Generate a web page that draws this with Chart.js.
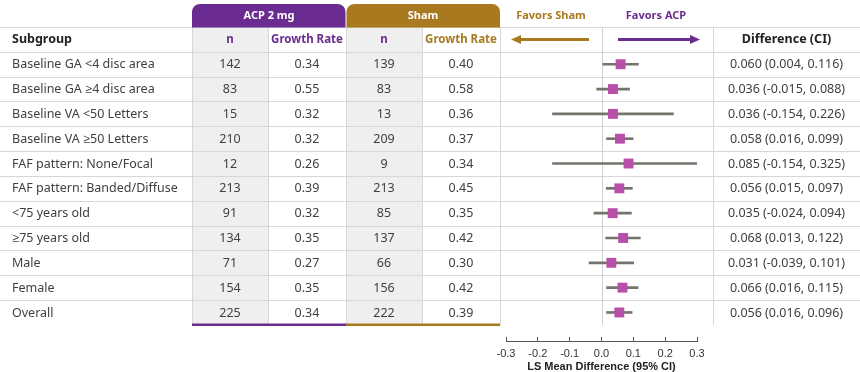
<!DOCTYPE html>
<html>
<head>
<meta charset="utf-8">
<script src="https://cdn.jsdelivr.net/npm/chart.js@4/dist/chart.umd.min.js"></script>
<style>
  html, body { margin: 0; padding: 0; background: #fff; }
  canvas { display: block; }
</style>
</head>
<body>
<canvas id="forest" width="860" height="372"></canvas>
<script>
// Subgroup rows
const subgroups = [
  'Baseline GA <4 disc area',
  'Baseline GA \u22654 disc area',
  'Baseline VA <50 Letters',
  'Baseline VA \u226550 Letters',
  'FAF pattern: None/Focal',
  'FAF pattern: Banded/Diffuse',
  '<75 years old',
  '\u226575 years old',
  'Male',
  'Female',
  'Overall'
];
const acpN     = [142, 83, 15, 210, 12, 213, 91, 134, 71, 154, 225];
const acpRate  = ['0.34', '0.55', '0.32', '0.32', '0.26', '0.39', '0.32', '0.35', '0.27', '0.35', '0.34'];
const shamN    = [139, 83, 13, 209, 9, 213, 85, 137, 66, 156, 222];
const shamRate = ['0.40', '0.58', '0.36', '0.37', '0.34', '0.45', '0.35', '0.42', '0.30', '0.42', '0.39'];
// LS mean difference with 95% CI
const diffEst  = [0.060, 0.036, 0.036, 0.058, 0.085, 0.056, 0.035, 0.068, 0.031, 0.066, 0.056];
const ciLow    = [0.004, -0.015, -0.154, 0.016, -0.154, 0.015, -0.024, 0.013, -0.039, 0.016, 0.016];
const ciHigh   = [0.116, 0.088, 0.226, 0.099, 0.325, 0.097, 0.094, 0.122, 0.101, 0.115, 0.096];
const xTicks   = [-0.3, -0.2, -0.1, 0.0, 0.1, 0.2, 0.3];

const PURPLE = '#6b2c91';
const GOLD = '#a8791f';
const MARKER = '#b84fa8';
const CI_GREY = '#74746c';
const GRID = '#d7d7d7';
const SHADE = '#efefef';
const TEXT = '#404040';
const TFONT = '"Noto Sans", "Open Sans", sans-serif';

// column edges of the table
const COL = {
  label: [0, 192], acpN: [192, 268], acpRate: [268, 346],
  shamN: [346, 422], shamRate: [422, 500], forest: [500, 713], diff: [713, 860]
};
const mid = c => (c[0] + c[1]) / 2;

function roundedTab(ctx, x0, x1, y0, y1, r, color) {
  ctx.beginPath();
  ctx.moveTo(x0, y1);
  ctx.lineTo(x0, y0 + r);
  ctx.arcTo(x0, y0, x0 + r, y0, r);
  ctx.lineTo(x1 - r, y0);
  ctx.arcTo(x1, y0, x1, y0 + r, r);
  ctx.lineTo(x1, y1);
  ctx.closePath();
  ctx.fillStyle = color;
  ctx.fill();
}

function arrow(ctx, xTail, xTip, y, color) {
  const dir = Math.sign(xTip - xTail);
  const head = 10;
  ctx.strokeStyle = color;
  ctx.fillStyle = color;
  ctx.lineWidth = 3;
  ctx.beginPath();
  ctx.moveTo(xTail, y);
  ctx.lineTo(xTip - dir * head, y);
  ctx.stroke();
  ctx.beginPath();
  ctx.moveTo(xTip, y);
  ctx.lineTo(xTip - dir * head, y - 4.5);
  ctx.lineTo(xTip - dir * head, y + 4.5);
  ctx.closePath();
  ctx.fill();
}

const tablePlugin = {
  id: 'forestTable',
  beforeDatasetsDraw(chart) {
    const { ctx, scales: { x, y } } = chart;
    const rowY = k => y.getPixelForValue(k);
    const top = rowY(-0.5);
    const bottom = rowY(subgroups.length + 0.5);
    const W = chart.width;

    ctx.save();
    // shaded n columns
    ctx.fillStyle = SHADE;
    [COL.acpN, COL.shamN].forEach(c => ctx.fillRect(c[0], top, c[1] - c[0], bottom - top));

    // row rules
    ctx.strokeStyle = GRID;
    ctx.lineWidth = 1;
    for (let k = 0; k < subgroups.length + 1; k++) {
      const yy = Math.round(rowY(k - 0.5)) + 0.5;
      ctx.beginPath();
      ctx.moveTo(0, yy);
      ctx.lineTo(W, yy);
      ctx.stroke();
    }
    // column rules
    [COL.acpN[0], COL.acpRate[0], COL.shamN[0], COL.shamRate[0], COL.forest[0], COL.diff[0]].forEach(xx => {
      ctx.beginPath();
      ctx.moveTo(xx + 0.5, top);
      ctx.lineTo(xx + 0.5, bottom);
      ctx.stroke();
    });
    // zero reference line
    const x0 = Math.round(x.getPixelForValue(0)) + 0.5;
    ctx.strokeStyle = '#cfcfcf';
    ctx.beginPath();
    ctx.moveTo(x0, top);
    ctx.lineTo(x0, bottom);
    ctx.stroke();

    // arm tabs
    const tabTop = top - 23;
    roundedTab(ctx, COL.acpN[0], COL.acpRate[1] - 0.5, tabTop, top + 0.5, 8, PURPLE);
    roundedTab(ctx, COL.shamN[0] + 0.5, COL.shamRate[1], tabTop, top + 0.5, 8, GOLD);
    ctx.textAlign = 'center';
    ctx.textBaseline = 'middle';
    ctx.fillStyle = '#ffffff';
    ctx.font = 'bold 11px ' + TFONT;
    ctx.fillText('ACP 2 mg', (COL.acpN[0] + COL.acpRate[1]) / 2, (tabTop + top) / 2 + 0.5);
    ctx.fillText('Sham', (COL.shamN[0] + COL.shamRate[1]) / 2, (tabTop + top) / 2 + 0.5);

    // favours labels and arrows
    ctx.font = 'bold 11px ' + TFONT;
    ctx.fillStyle = GOLD;
    ctx.fillText('Favors Sham', 551, (tabTop + top) / 2 + 0.5);
    ctx.fillStyle = PURPLE;
    ctx.fillText('Favors ACP', 656, (tabTop + top) / 2 + 0.5);
    const hy = rowY(0);
    arrow(ctx, 589, 511, hy, GOLD);
    arrow(ctx, 618, 700, hy, PURPLE);

    // header row
    ctx.font = 'bold 12.5px ' + TFONT;
    ctx.fillStyle = '#222';
    ctx.textAlign = 'left';
    ctx.fillText('Subgroup', 12, hy);
    ctx.textAlign = 'center';
    ctx.fillText('Difference (CI)', mid(COL.diff), hy);
    ctx.font = 'bold 11.5px ' + TFONT;
    ctx.fillStyle = PURPLE;
    ctx.fillText('n', mid(COL.acpN), hy);
    ctx.fillText('Growth Rate', mid(COL.acpRate), hy);
    ctx.fillText('n', mid(COL.shamN), hy);
    ctx.fillStyle = GOLD;
    ctx.fillText('Growth Rate', mid(COL.shamRate), hy);

    // body rows
    ctx.font = '12.5px ' + TFONT;
    ctx.fillStyle = TEXT;
    subgroups.forEach((name, i) => {
      const yy = rowY(i + 1) + 0.5;
      ctx.textAlign = 'left';
      ctx.fillText(name, 12, yy);
      ctx.textAlign = 'center';
      ctx.fillText(String(acpN[i]), mid(COL.acpN), yy);
      ctx.fillText(acpRate[i], mid(COL.acpRate), yy);
      ctx.fillText(String(shamN[i]), mid(COL.shamN), yy);
      ctx.fillText(shamRate[i], mid(COL.shamRate), yy);
      const txt = diffEst[i].toFixed(3) + ' (' + ciLow[i].toFixed(3) + ', ' + ciHigh[i].toFixed(3) + ')';
      ctx.fillText(txt, mid(COL.diff), yy);
    });

    // arm underlines
    ctx.lineWidth = 2.5;
    ctx.strokeStyle = PURPLE;
    ctx.beginPath();
    ctx.moveTo(COL.acpN[0], bottom);
    ctx.lineTo(COL.acpRate[1], bottom);
    ctx.stroke();
    ctx.strokeStyle = GOLD;
    ctx.beginPath();
    ctx.moveTo(COL.shamN[0], bottom);
    ctx.lineTo(COL.shamRate[1], bottom);
    ctx.stroke();
    ctx.restore();
  }
};

const rows = subgroups.map((_, i) => i + 1);

new Chart(document.getElementById('forest'), {
  type: 'bar',
  data: {
    datasets: [
      {
        type: 'bar',
        label: '95% CI',
        indexAxis: 'y',
        data: rows.map((r, i) => ({ x: [ciLow[i], ciHigh[i]], y: r })),
        backgroundColor: CI_GREY,
        borderWidth: 0,
        barThickness: 2,
        clip: 0,
        order: 2
      },
      {
        type: 'scatter',
        label: 'LS mean difference',
        data: rows.map((r, i) => ({ x: diffEst[i], y: r })),
        pointStyle: 'rect',
        pointRadius: 7,
        pointHoverRadius: 7,
        backgroundColor: MARKER,
        borderColor: MARKER,
        borderWidth: 0,
        order: 1
      }
    ]
  },
  options: {
    indexAxis: 'y',
    responsive: false,
    animation: false,
    devicePixelRatio: 1,
    layout: { autoPadding: false, padding: { left: 506, right: 163, top: 27, bottom: 0 } },
    plugins: { legend: { display: false }, tooltip: { enabled: false } },
    scales: {
      y: {
        type: 'linear',
        reverse: true,
        offset: false,
        min: -0.5,
        max: 12.15,
        display: false
      },
      x: {
        type: 'linear',
        min: -0.3,
        max: 0.3,
        offset: false,
        afterBuildTicks: s => { s.ticks = xTicks.map(v => ({ value: v })); },
        afterFit: s => { s.height = 31; },
        ticks: {
          callback: v => Number(v).toFixed(1),
          autoSkip: false,
          maxRotation: 0,
          padding: 10,
          color: '#333',
          font: { family: '"Liberation Sans", Arial, sans-serif', size: 11 }
        },
        grid: { drawOnChartArea: false, drawTicks: true, tickLength: -4, color: '#555', lineWidth: 1 },
        border: { display: true, color: '#555', width: 1 },
        title: {
          display: true,
          text: 'LS Mean Difference (95% CI)',
          color: '#222',
          font: { family: '"Liberation Sans", Arial, sans-serif', size: 11, weight: 'bold' },
          padding: { top: -1.5, bottom: -1.5 }
        }
      }
    }
  },
  plugins: [tablePlugin]
});
</script>
</body>
</html>
